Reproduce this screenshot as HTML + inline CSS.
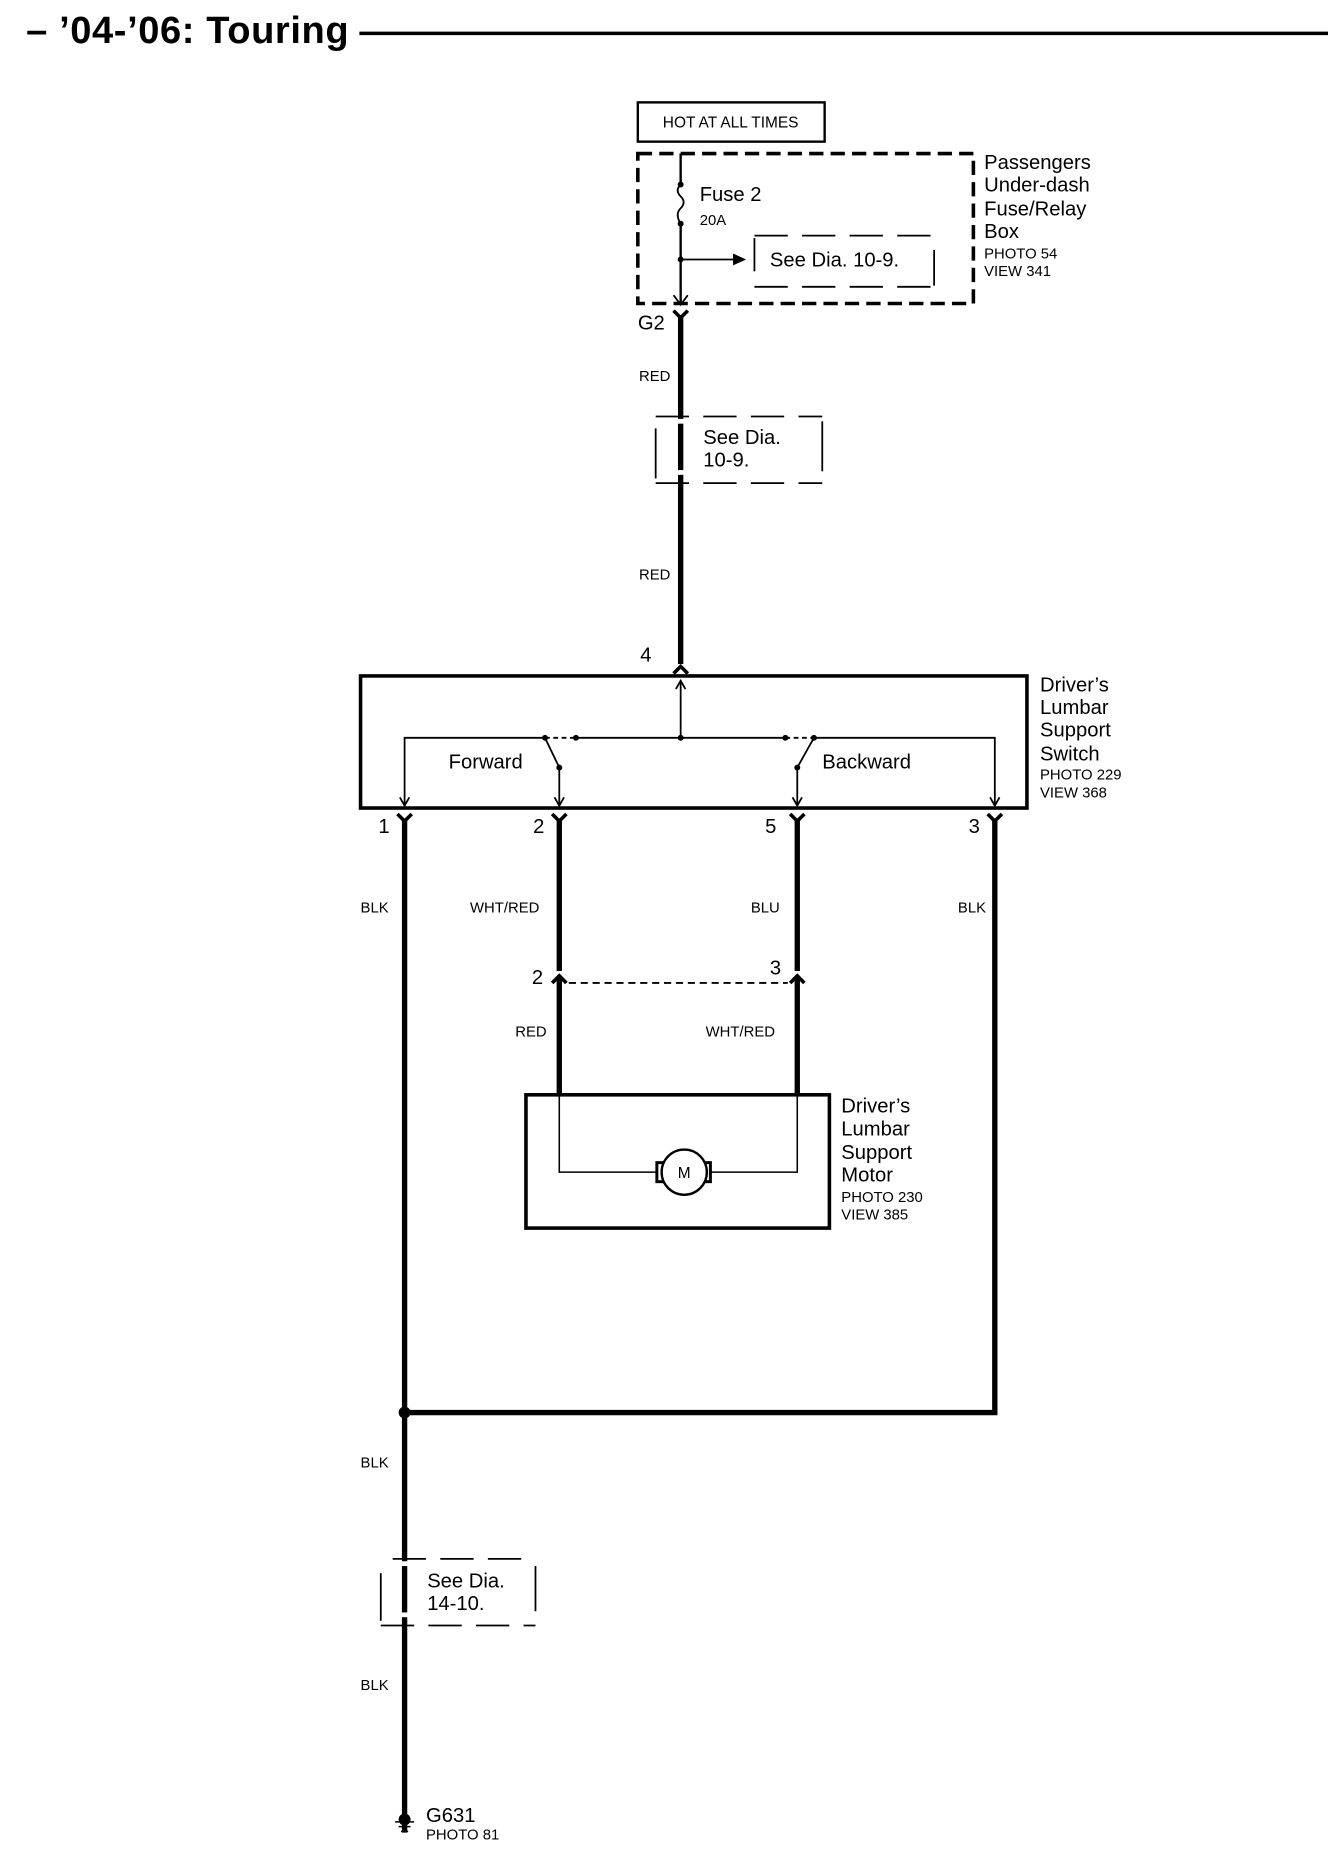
<!DOCTYPE html>
<html><head><meta charset="utf-8"><style>
html,body{margin:0;padding:0;background:#fff}
svg{display:block}
text{font-family:"Liberation Sans",Arial,sans-serif;fill:#000}
</style></head><body>
<svg width="1328" height="1860" viewBox="0 0 1116 1563" xmlns="http://www.w3.org/2000/svg">
<text x="22" y="36" font-size="32" font-weight="bold" letter-spacing="0.5">– ’04-’06: Touring</text>
<line x1="302" y1="28" x2="1116" y2="28" stroke="#000" stroke-width="3"/>

<rect x="536" y="86" width="157" height="33" fill="none" stroke="#000" stroke-width="2"/>
<text x="614" y="107" font-size="13" text-anchor="middle">HOT AT ALL TIMES</text>
<rect x="536" y="129" width="282" height="126" fill="none" stroke="#000" stroke-width="3" stroke-dasharray="12,6"/>
<g font-size="17"><text x="827" y="142">Passengers</text><text x="827" y="161">Under-dash</text><text x="827" y="181">Fuse/Relay</text><text x="827" y="200">Box</text></g>
<g font-size="12.5"><text x="827" y="217">PHOTO 54</text><text x="827" y="232">VIEW 341</text></g>

<line x1="572" y1="129" x2="572" y2="155" stroke="#000" stroke-width="2"/>
<path d="M572 155 q-5 5 0 10 q5 5 0 10 q-5 5 0 13" fill="none" stroke="#000" stroke-width="1.5"/>
<circle cx="572" cy="155" r="2.5"/><circle cx="572" cy="188" r="2.5"/><circle cx="572" cy="218" r="2.5"/>
<line x1="572" y1="188" x2="572" y2="255" stroke="#000" stroke-width="2"/>
<path d="M566 248 L572 256 L578 248" fill="none" stroke="#000" stroke-width="1.5"/>
<text x="588" y="169" font-size="17">Fuse 2</text><text x="588" y="189" font-size="12.5">20A</text>
<line x1="572" y1="218" x2="618" y2="218" stroke="#000" stroke-width="1.5"/>
<path d="M616 213 L627 218 L616 223Z"/>
<path d="M634 198 H785 M634 241 H785" stroke="#000" stroke-width="1.5" stroke-dasharray="28,12" fill="none"/>
<line x1="634" y1="200" x2="634" y2="228" stroke="#000" stroke-width="1.5"/>
<line x1="785" y1="210" x2="785" y2="240" stroke="#000" stroke-width="1.5"/>
<text x="647" y="224" font-size="17">See Dia. 10-9.</text>

<text x="536" y="277" font-size="17">G2</text>
<path d="M566 261 L572 267 L578 261" fill="none" stroke="#000" stroke-width="3"/>
<line x1="572" y1="265" x2="572" y2="558" stroke="#000" stroke-width="4.5"/>
<rect x="566" y="352" width="12" height="4" fill="#fff"/><rect x="566" y="395" width="12" height="4" fill="#fff"/>
<text x="537" y="320" font-size="12.5">RED</text>
<path d="M551 350 H691 M551 406 H691" stroke="#000" stroke-width="1.5" stroke-dasharray="28,12" fill="none"/>
<line x1="551" y1="360" x2="551" y2="402" stroke="#000" stroke-width="1.5"/>
<line x1="691" y1="354" x2="691" y2="396" stroke="#000" stroke-width="1.5"/>
<text x="591" y="373" font-size="17">See Dia.</text><text x="591" y="392" font-size="17">10-9.</text>
<text x="537" y="487" font-size="12.5">RED</text>
<text x="538" y="556" font-size="17">4</text>
<path d="M566 566 L572 560 L578 566" fill="none" stroke="#000" stroke-width="3"/>

<rect x="303" y="568" width="560" height="111" fill="none" stroke="#000" stroke-width="3"/>
<g font-size="17"><text x="874" y="581">Driver’s</text><text x="874" y="600">Lumbar</text><text x="874" y="619">Support</text><text x="874" y="639">Switch</text></g>
<g font-size="12.5"><text x="874" y="655">PHOTO 229</text><text x="874" y="670">VIEW 368</text></g>
<g stroke="#000" stroke-width="1.5" fill="none">
<line x1="572" y1="620" x2="572" y2="572"/><path d="M568 579 L572 572 L576 579"/>
<path d="M340 677 V620 H458 M484 620 H660 M684 620 H836 V677"/>
<path d="M458 620 H484 M660 620 H684" stroke-dasharray="4,3"/>
<line x1="458" y1="620" x2="470" y2="645"/><line x1="684" y1="620" x2="670" y2="645"/>
<line x1="470" y1="645" x2="470" y2="677"/><line x1="670" y1="645" x2="670" y2="677"/>
<path d="M336 670 L340 677 L344 670 M466 670 L470 677 L474 670 M666 670 L670 677 L674 670 M832 670 L836 677 L840 670"/>
</g>
<circle cx="458" cy="620" r="2.5"/><circle cx="484" cy="620" r="2.5"/><circle cx="572" cy="620" r="2.5"/><circle cx="660" cy="620" r="2.5"/><circle cx="684" cy="620" r="2.5"/><circle cx="470" cy="645" r="2.5"/><circle cx="670" cy="645" r="2.5"/>
<text x="377" y="646" font-size="17">Forward</text><text x="691" y="646" font-size="17">Backward</text>

<g font-size="17"><text x="318" y="700">1</text><text x="448" y="700">2</text><text x="643" y="700">5</text><text x="814" y="700">3</text></g>
<g fill="none" stroke="#000" stroke-width="3"><path d="M334 684 L340 690 L346 684 M464 684 L470 690 L476 684 M664 684 L670 690 L676 684 M830 684 L836 690 L842 684"/>
<path d="M464 826 L470 820 L476 826 M664 826 L670 820 L676 826"/></g>
<g stroke="#000" stroke-width="4.5"><line x1="340" y1="688" x2="340" y2="1540"/><line x1="470" y1="688" x2="470" y2="816"/><line x1="670" y1="688" x2="670" y2="816"/><line x1="836" y1="688" x2="836" y2="1189"/><line x1="340" y1="1187" x2="838" y2="1187"/>
<line x1="470" y1="822" x2="470" y2="921"/><line x1="670" y1="822" x2="670" y2="921"/></g>
<rect x="334" y="1312" width="12" height="4" fill="#fff"/><rect x="334" y="1355" width="12" height="4" fill="#fff"/>
<circle cx="340" cy="1187" r="5"/>
<line x1="478" y1="826" x2="662" y2="826" stroke="#000" stroke-width="1.5" stroke-dasharray="6,4"/>
<g font-size="12.5"><text x="303" y="767">BLK</text><text x="395" y="767">WHT/RED</text><text x="631" y="767">BLU</text><text x="805" y="767">BLK</text>
<text x="433" y="871">RED</text><text x="593" y="871">WHT/RED</text></g>
<text x="447" y="827" font-size="17">2</text><text x="647" y="819" font-size="17">3</text>

<rect x="442" y="920" width="255" height="112" fill="none" stroke="#000" stroke-width="3"/>
<path d="M470 920 V985 H553 M670 920 V985 H597" fill="none" stroke="#000" stroke-width="1.3"/>
<rect x="552" y="977" width="6" height="16" fill="none" stroke="#000" stroke-width="2.5"/>
<rect x="591" y="977" width="6" height="16" fill="none" stroke="#000" stroke-width="2.5"/>
<circle cx="575" cy="985" r="19" fill="#fff" stroke="#000" stroke-width="2"/>
<text x="575" y="990" font-size="13" text-anchor="middle">M</text>
<g font-size="17"><text x="707" y="935">Driver’s</text><text x="707" y="954">Lumbar</text><text x="707" y="974">Support</text><text x="707" y="993">Motor</text></g>
<g font-size="12.5"><text x="707" y="1010">PHOTO 230</text><text x="707" y="1025">VIEW 385</text></g>

<text x="303" y="1233" font-size="12.5">BLK</text>
<path d="M330 1310 H450 M320 1366 H450" stroke="#000" stroke-width="1.5" stroke-dasharray="28,12" fill="none"/>
<line x1="320" y1="1322" x2="320" y2="1362" stroke="#000" stroke-width="1.5"/>
<line x1="450" y1="1316" x2="450" y2="1354" stroke="#000" stroke-width="1.5"/>
<text x="359" y="1334" font-size="17">See Dia.</text><text x="359" y="1353" font-size="17">14-10.</text>
<text x="303" y="1420" font-size="12.5">BLK</text>
<circle cx="340" cy="1529" r="5"/>
<path d="M332 1531 H348 M335 1535 H345 M337 1539 H343" stroke="#000" stroke-width="1.3"/>
<text x="358" y="1531" font-size="17">G631</text><text x="358" y="1546" font-size="12.5">PHOTO 81</text>
</svg>
</body></html>
